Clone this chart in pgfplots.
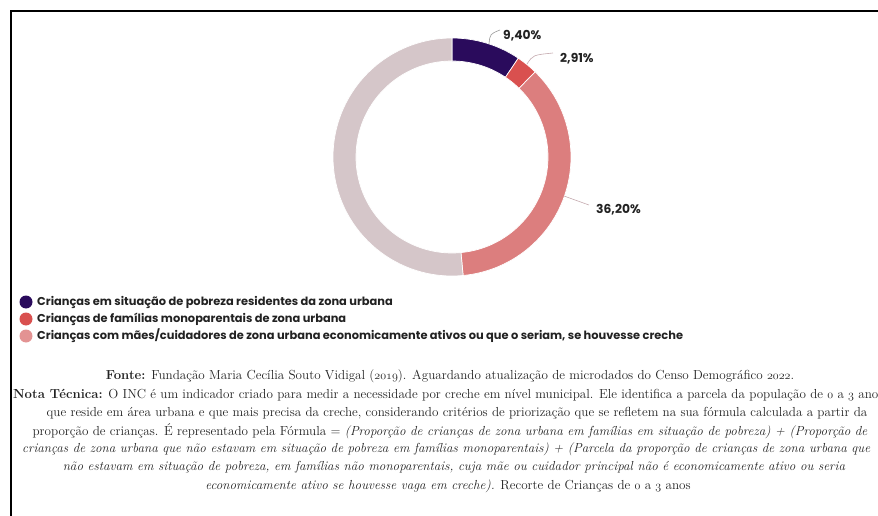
\documentclass[border=0pt]{standalone}
\usepackage{pgfplots}
\pgfplotsset{compat=1.18}
\usepackage{pgfplotstable}
\usepackage{fontspec}
\newfontfamily\pop{Poppins}

\definecolor{cpob}{HTML}{2A0B5C}
\definecolor{cmono}{HTML}{D9504F}
\definecolor{cativ}{HTML}{DC7E7E}
\definecolor{cresto}{HTML}{D5C6C9}
\definecolor{cativleg}{HTML}{E39393}
\definecolor{txt}{HTML}{222222}
\definecolor{leader}{HTML}{C4A9AE}

% old-style figures as in the source note
\newcommand\osn[1]{{\usefont{OML}{cmm}{m}{it}#1}}

% shares of the ring, clockwise from the top
\pgfplotstableread{
grupo valor
pobreza 9.40
mono 2.91
ativos 36.20
restante 51.49
}\donut

% ring segment: colour, start angle, end angle
\newcommand\seg[3]{%
  \fill[#1, draw=white, line width=0.7pt]
    ([shift={(#2:119pt)}]axis cs:452,157) arc[start angle=#2, end angle=#3, radius=119pt]
    -- ([shift={(#3:96pt)}]axis cs:452,157) arc[start angle=#3, end angle=#2, radius=96pt]
    -- cycle;}

\begin{document}
\begin{tikzpicture}
\pgfplotstablegetelem{0}{valor}\of\donut\let\va\pgfplotsretval
\pgfplotstablegetelem{1}{valor}\of\donut\let\vb\pgfplotsretval
\pgfplotstablegetelem{2}{valor}\of\donut\let\vc\pgfplotsretval
\pgfplotstablegetelem{3}{valor}\of\donut\let\vd\pgfplotsretval
\pgfmathsetmacro\bA{90-3.6*\va}
\pgfmathsetmacro\bB{\bA-3.6*\vb}
\pgfmathsetmacro\bC{\bB-3.6*\vc}
\pgfmathsetmacro\bD{\bC-3.6*\vd}
\begin{axis}[
   scale only axis,
   width=878pt, height=516pt,
   xmin=0, xmax=878, ymin=0, ymax=516,
   y dir=reverse,
   hide axis, clip=false,
]
% frame lines
\draw[black, line width=2pt] (axis cs:11,516) -- (axis cs:11,11) -- (axis cs:878,11);

% donut
\seg{cpob}{90}{\bA}
\seg{cmono}{\bA}{\bB}
\seg{cativ}{\bB}{\bC}
\seg{cresto}{\bC}{\bD}

% labels and leaders
\draw[gray!80, line width=0.6pt] (axis cs:489,44) .. controls (axis cs:490,34) .. (axis cs:500,30);
\draw[leader, line width=0.6pt] (axis cs:527,64) .. controls (axis cs:533,55) .. (axis cs:553,53);
\draw[leader, line width=0.6pt] (axis cs:564,196) .. controls (axis cs:575,200) .. (axis cs:589,205);
\begin{scope}[every node/.style={anchor=west, inner sep=0pt, text=txt, font=\pop\bfseries\fontsize{12.3}{14}\selectfont}]
\node at (axis cs:503,36) {9,40\%};
\node at (axis cs:560,59) {2,91\%};
\node at (axis cs:596,210) {36,20\%};
\end{scope}

% legend
\fill[cpob] (axis cs:26,302) circle[radius=6.5pt];
\fill[cmono] (axis cs:26,319) circle[radius=6.5pt];
\fill[cativleg] (axis cs:26,336) circle[radius=6.5pt];
\begin{scope}[every node/.style={anchor=west, inner sep=0pt, text=txt, font=\pop\bfseries\fontsize{11.4}{13}\selectfont}]
\node at (axis cs:37,302) {Crianças em situação de pobreza residentes da zona urbana};
\node at (axis cs:37,319) {Crianças de famílias monoparentais de zona urbana};
\node at (axis cs:37,336) {Crianças com mães/cuidadores de zona urbana economicamente ativos ou que o seriam, se houvesse creche};
\end{scope}

% source and technical note
\begin{scope}[every node/.style={anchor=center, inner sep=0pt, text=txt, font=\fontsize{13.1}{16}\selectfont}]
\node at (axis cs:450,376) {\textbf{Fonte:} Fundação Maria Cecília Souto Vidigal (\osn{2019}). Aguardando atualização de microdados do Censo Demográfico \osn{2022}.};
\node[anchor=west] at (axis cs:13,395) {\textbf{Nota Técnica:} O INC é um indicador criado para medir a necessidade por creche em nível municipal. Ele identifica a parcela da população de \osn{0} a \osn{3} anos};
\node at (axis cs:457,413) {que reside em área urbana e que mais precisa da creche, considerando critérios de priorização que se refletem na sua fórmula calculada a partir da};
\node at (axis cs:450,431) {proporção de crianças. É representado pela Fórmula = \textit{(Proporção de crianças de zona urbana em famílias em situação de pobreza) + (Proporção de}};
\node[anchor=west] at (axis cs:22,449) {\textit{crianças de zona urbana que não estavam em situação de pobreza em famílias monoparentais) + (Parcela da proporção de crianças de zona urbana que}};
\node at (axis cs:454,467) {\textit{não estavam em situação de pobreza, em famílias não monoparentais, cuja mãe ou cuidador principal não é economicamente ativo ou seria}};
\node at (axis cs:448,486) {\textit{economicamente ativo se houvesse vaga em creche).} Recorte de Crianças de \osn{0} a \osn{3} anos};
\end{scope}
\end{axis}
\pgfresetboundingbox
\path[use as bounding box] (current axis.south west) rectangle (current axis.north east);
\end{tikzpicture}
\end{document}
